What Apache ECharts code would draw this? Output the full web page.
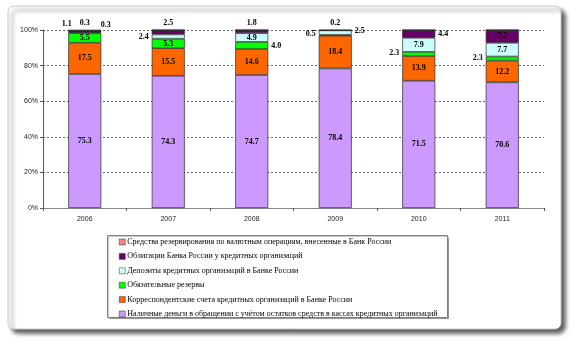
<!DOCTYPE html>
<html>
<head>
<meta charset="utf-8">
<script src="https://cdn.jsdelivr.net/npm/echarts@6/dist/echarts.min.js"></script>
<style>
  html, body { margin: 0; padding: 0; background: #fff; }
  #chart { width: 575px; height: 343px; }
</style>
</head>
<body>
<div id="chart"></div>
<script>
// Structure of the Bank of Russia reserve money, % of total
const years = ['2006', '2007', '2008', '2009', '2010', '2011'];
const yTicks = [0, 20, 40, 60, 80, 100];

const nameCash = 'Наличные деньги в обращении с учётом остатков средств в кассах кредитных организаций';
const nameCorr = 'Корреспондентские счета кредитных организаций в Банке России';
const nameReq = 'Обязательные резервы';
const nameDep = 'Депозиты кредитных организаций в Банке России';
const nameBonds = 'Облигации Банка России у кредитных организаций';
const nameFx = 'Средства резервирования по валютным операциям, внесенные в Банк России';

const cash = [75.3, 74.3, 74.7, 78.4, 71.5, 70.6];
const corrAccounts = [17.5, 15.5, 14.6, 18.4, 13.9, 12.2];
const requiredReserves = [5.5, 5.3, 4.0, 0.5, 2.3, 2.3];
const deposits = [0.3, 2.4, 4.9, 2.5, 7.9, 7.7];
const bonds = [1.1, 2.5, 1.8, 0, 4.4, 7.2];
const fxReserves = [0.3, 0, 0, 0.2, 0, 0];

// Thin segments get their label outside the bar: [position, dx, dy]
const outsideLabels = {
  [nameReq]: { 2: ['right', 0, 0], 3: ['left', 0, -1], 4: ['left', 0, -1], 5: ['left', 0, -1] },
  [nameDep]: { 0: ['top', 21, 0], 1: ['left', 0, 0], 3: ['right', 0, -2] },
  [nameBonds]: { 0: ['top', -18, 0], 1: ['top', 0, 0], 2: ['top', 0, 0], 4: ['right', 0, 0] },
  [nameFx]: { 0: ['top', 0, 0], 3: ['top', 0, 0] }
};

const stack = [
  { name: nameCash, values: cash, color: '#CC99FF' },
  { name: nameCorr, values: corrAccounts, color: '#FF6600' },
  { name: nameReq, values: requiredReserves, color: '#00FF00' },
  { name: nameDep, values: deposits, color: '#CCFFFF' },
  { name: nameBonds, values: bonds, color: '#660066' },
  { name: nameFx, values: fxReserves, color: '#FF8080' }
];

const labelFont = { fontFamily: 'Liberation Serif', fontSize: 8, fontWeight: 'bold', color: '#000' };

const series = stack.map(s => ({
  name: s.name,
  type: 'bar',
  stack: 'total',
  barWidth: 33,
  itemStyle: { color: s.color, borderColor: '#2a2a2a', borderWidth: 0.7 },
  label: Object.assign({
    show: true,
    position: 'inside',
    formatter: p => (p.value > 0 ? p.value.toFixed(1) : '')
  }, labelFont),
  data: s.values.map((v, i) => {
    const spot = (outsideLabels[s.name] || {})[i];
    if (!spot) return v;
    return {
      value: v,
      label: { position: spot[0], distance: 3, offset: [spot[1], spot[2]] }
    };
  })
}));

const chart = echarts.init(document.getElementById('chart'), null, { renderer: 'canvas' });
chart.setOption({
  animation: false,
  backgroundColor: 'transparent',
  graphic: [
    {
      type: 'rect', z: -10, silent: true,
      shape: { x: 8, y: 6, width: 553, height: 323, r: 6 },
      style: {
        fill: '#fff', stroke: '#c8c8c8', lineWidth: 1,
        shadowColor: 'rgba(0,0,0,0.65)', shadowBlur: 4, shadowOffsetX: 4, shadowOffsetY: 4
      }
    },
    {
      type: 'rect', z: -5, silent: true,
      shape: { x: 107.5, y: 235.5, width: 340, height: 82 },
      style: { fill: '#fff', stroke: '#808080', lineWidth: 1,
        shadowColor: 'rgba(0,0,0,0.25)', shadowBlur: 1, shadowOffsetX: 1, shadowOffsetY: 1 }
    }
  ],
  grid: { left: 43, right: 31, top: 30, bottom: 135 },
  legend: {
    orient: 'vertical',
    left: 119, top: 238,
    padding: 0,
    itemWidth: 6, itemHeight: 6, itemGap: 6.4,
    icon: 'rect',
    data: stack.map(s => s.name).reverse(),
    textStyle: { fontFamily: 'Liberation Serif', fontSize: 8, lineHeight: 8, color: '#000', padding: [0, 0, 0, -3] },
    itemStyle: { borderColor: '#333', borderWidth: 0.5 }
  },
  xAxis: {
    type: 'category',
    data: years,
    axisLine: { lineStyle: { color: '#8a8a8a', width: 1 } },
    axisTick: { show: true, length: 3, inside: false, lineStyle: { color: '#555' } },
    axisLabel: { fontFamily: 'Liberation Sans', fontSize: 7, color: '#222', margin: 8 }
  },
  yAxis: {
    type: 'value',
    min: yTicks[0], max: yTicks[yTicks.length - 1], interval: 20,
    axisLine: { show: true, lineStyle: { color: '#555', width: 1 } },
    axisTick: { show: true, length: 3, lineStyle: { color: '#555' } },
    axisLabel: { fontFamily: 'Liberation Sans', fontSize: 7, color: '#222', margin: 5, formatter: '{value}%' },
    splitLine: { show: true, lineStyle: { color: '#666', width: 1, type: [2, 2] } }
  },
  series: series
});
</script>
</body>
</html>
